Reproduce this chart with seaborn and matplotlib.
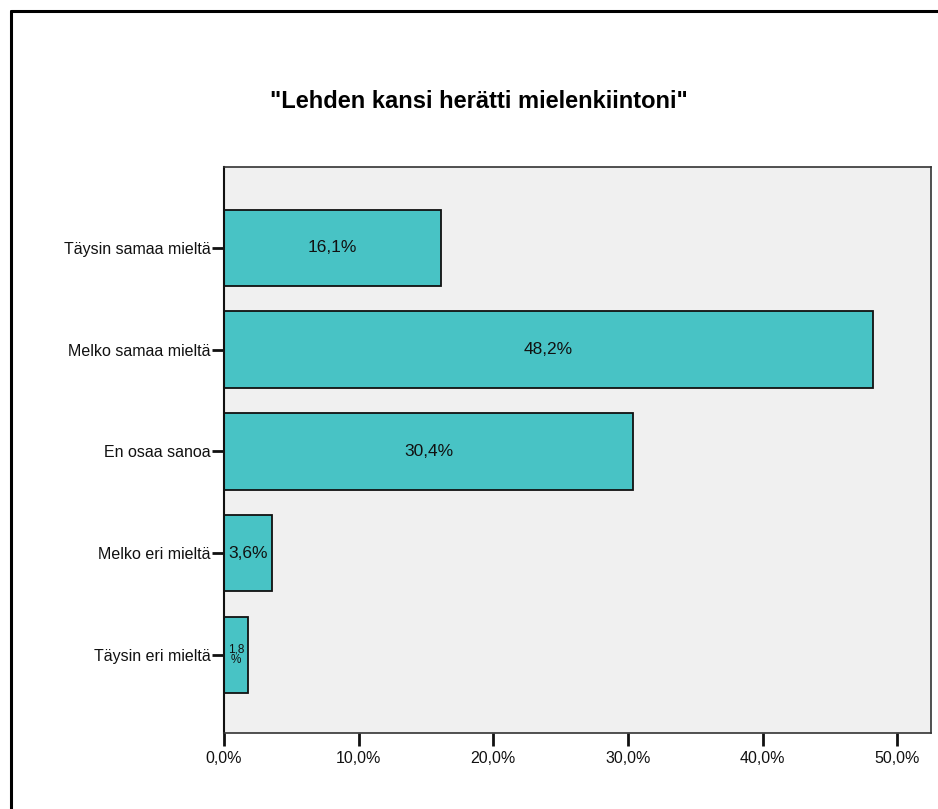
import matplotlib
matplotlib.use("Agg")
import matplotlib.pyplot as plt
from matplotlib.lines import Line2D
import seaborn as sns
import pandas as pd

# Survey answers and their shares (%)
categories = ["Täysin samaa mieltä", "Melko samaa mieltä", "En osaa sanoa",
              "Melko eri mieltä", "Täysin eri mieltä"]
percentages = [16.1, 48.2, 30.4, 3.6, 1.8]
x_ticks = [0, 10, 20, 30, 40, 50]
title = "\"Lehden kansi herätti mielenkiintoni\""

sns.set_theme(style="white")
plt.rcParams["font.family"] = ["Liberation Sans", "DejaVu Sans"]

W, H = 938, 809
fig = plt.figure(figsize=(W / 100, H / 100), dpi=100)
ax = fig.add_axes([224 / W, (H - 733) / H, (931 - 224) / W, (733 - 167) / H])

df = pd.DataFrame({"answer": categories, "pct": percentages})
sns.barplot(data=df, x="pct", y="answer", order=categories, color="#48C3C5",
            saturation=1, edgecolor="#111111", linewidth=1.3, width=0.75, ax=ax)

ax.set_facecolor("#F0F0F0")
ax.set_xlim(0, 52.5)
ax.set_ylim(4.765, -0.794)
ax.set_xlabel("")
ax.set_ylabel("")

ax.set_xticks(x_ticks)
ax.set_xticklabels([f"{t:.1f}%".replace(".", ",") for t in x_ticks])
ax.tick_params(axis="x", length=9, width=2, colors="#111111", labelsize=11.5,
               labelcolor="#111111", pad=4, direction="out", bottom=True)
ax.tick_params(axis="y", length=9, width=2, colors="#111111", labelsize=11.5,
               labelcolor="#111111", pad=0.5, direction="out", left=True)

for side in ["top", "right", "bottom"]:
    ax.spines[side].set_color("#333333")
    ax.spines[side].set_linewidth(1.2)
ax.spines["left"].set_color("#111111")
ax.spines["left"].set_linewidth(1.5)

# Value labels centred inside each bar
for i, v in enumerate(percentages):
    txt = f"{v:.1f}".replace(".", ",")
    if v < 3:
        ax.text(v / 2, i, txt + "\n%", ha="center", va="center",
                fontsize=8.5, color="#111111", linespacing=0.85)
    else:
        ax.text(v / 2, i, txt + "%", ha="center", va="center",
                fontsize=12.5, color="#111111")

fig.text(479 / W, 1 - 101 / H, title, ha="center", va="center",
         fontsize=17, fontweight="bold", color="#000000")

# Outer frame (left and top edges)
lw = 2.2
fig.add_artist(Line2D([11 / W, 11 / W], [0, 1 - 11 / H], transform=fig.transFigure,
                      color="black", linewidth=lw))
fig.add_artist(Line2D([11 / W, 1], [1 - 11 / H, 1 - 11 / H], transform=fig.transFigure,
                      color="black", linewidth=lw))

fig.savefig("out.png", dpi=100, facecolor="white")
